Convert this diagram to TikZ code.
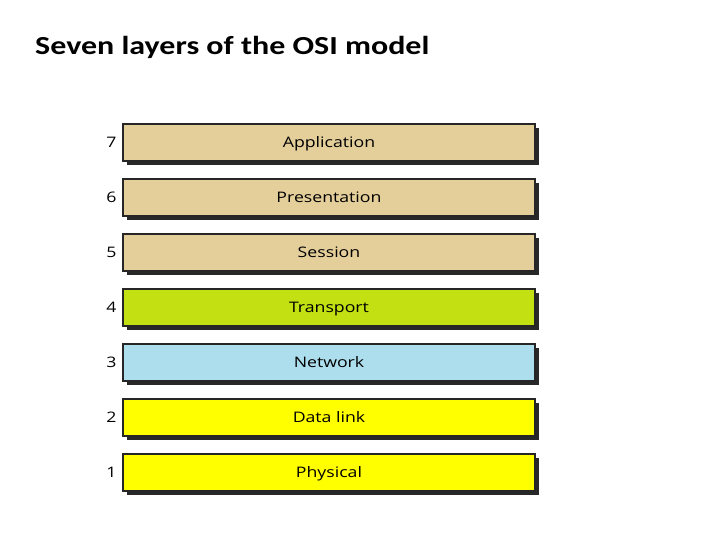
\documentclass[tikz,border=0pt]{standalone}
\usepackage{graphicx}
\usepackage{fontspec}
\setmainfont{Open Sans}
\newfontfamily\titlefont{Carlito}
\definecolor{tanc}{RGB}{228,206,154}
\definecolor{greenc}{RGB}{194,224,18}
\definecolor{bluec}{RGB}{172,222,238}
\definecolor{yellowc}{RGB}{255,255,0}
\definecolor{shadowc}{RGB}{40,40,40}
\newcommand{\widetext}[1]{\scalebox{1.22}[1]{#1}}
\begin{document}
\begin{tikzpicture}[x=1pt,y=-1pt,
  layerbox/.style={draw=black!85,line width=1.2pt,minimum width=412pt,minimum height=37pt,inner sep=0pt,text height=12.4pt,text depth=3pt,font=\fontsize{14.5}{16}\selectfont},
  shadowbox/.style={fill=shadowc,minimum width=412pt,minimum height=37pt,inner sep=0pt},
  numlabel/.style={font=\fontsize{14.5}{16}\selectfont,text height=12.4pt,text depth=3pt,anchor=center}]
\useasboundingbox (0,0) rectangle (720,540);
\node[anchor=base west,inner sep=0pt,font=\titlefont\bfseries\fontsize{26}{30}\selectfont] (title) at (35,55) {\scalebox{1.23}[1]{Seven layers of the OSI model}};
\foreach \n/\lab/\col [count=\i from 0] in {7/Application/tanc,6/Presentation/tanc,5/Session/tanc,4/Transport/greenc,3/Network/bluec,2/Data link/yellowc,1/Physical/yellowc}{
  \node[shadowbox] (s\n) at (333,{146.5+55*\i}) {};
  \node[layerbox,fill=\col] (l\n) at (329,{142.5+55*\i}) {\widetext{\lab}};
  \node[numlabel] (n\n) at (111.5,{142.5+55*\i}) {\widetext{\n}};
}
\end{tikzpicture}
\end{document}
